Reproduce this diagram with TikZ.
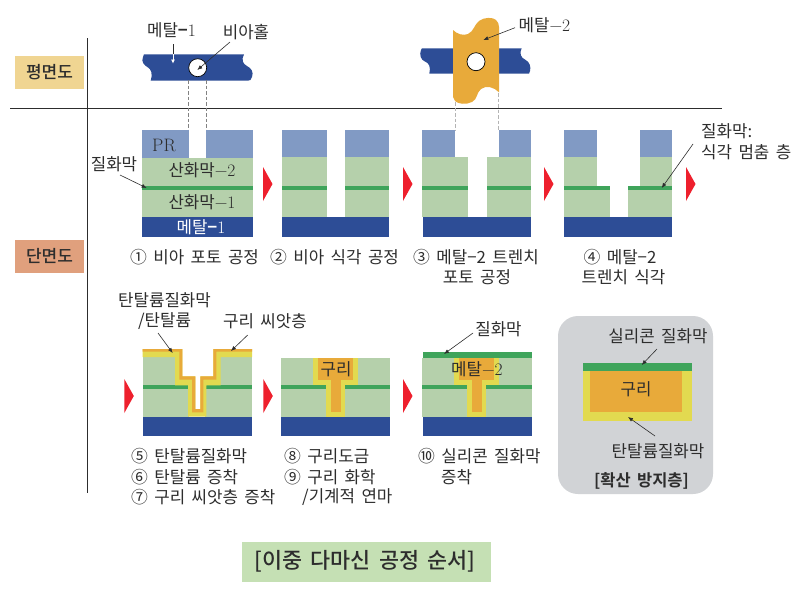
\documentclass[tikz,border=0pt]{standalone}
\usepackage{fontspec}
\usepackage{tikz}
\usetikzlibrary{arrows.meta}
\newfontfamily\krfont{Noto Sans CJK KR}[WordSpace=1.7,BoldFont={Noto Sans CJK KR Medium}]
\newfontfamily\krbold{Noto Sans CJK KR Bold}[WordSpace=1.7]
\definecolor{ink}{RGB}{45,45,45}
\definecolor{prblue}{RGB}{129,154,196}
\definecolor{oxide}{RGB}{181,208,171}
\definecolor{nitride}{RGB}{63,164,91}
\definecolor{metalone}{RGB}{45,77,150}
\definecolor{coppr}{RGB}{232,170,58}
\definecolor{tantal}{RGB}{226,218,80}
\definecolor{redtip}{RGB}{238,32,45}
\definecolor{planbox}{RGB}{240,213,146}
\definecolor{cutbox}{RGB}{224,160,125}
\definecolor{greybox}{RGB}{209,211,214}
\definecolor{titlebox}{RGB}{197,224,180}
\definecolor{guide}{RGB}{130,130,130}
\tikzset{
  lbl/.style={text=ink, inner sep=0pt, font=\krfont\fontsize{16.8}{18}\selectfont},
  capt/.style={lbl, anchor=west},
  head/.style={lbl, font=\krfont\bfseries\fontsize{17}{18}\selectfont},
  leader/.style={draw=ink, line width=0.6pt, -{Latex[length=5pt,width=4pt]}},
  guideline/.style={draw=guide, line width=0.6pt, dashed, dash pattern=on 3.5pt off 2pt},
  hole/.style={draw=black, line width=0.7pt, fill=white},
}
\newcommand{\ser}[1]{{\rmfamily\fontsize{17.5}{18}\selectfont #1}}
\begin{document}
\begin{tikzpicture}[x=1pt,y=-1pt]
  \useasboundingbox[fill=white] (0,0) rectangle (803,598);

  \fill[planbox] (15,56) rectangle (84,89);
  \fill[cutbox] (15,240) rectangle (84,273);
  \node[head] (plan) at (49.5,72) {평면도};
  \node[head] (cut) at (49.5,256) {단면도};
  \draw[ink, line width=0.8pt] (87.5,38) -- (87.5,493);
  \draw[ink, line width=0.8pt] (10,108.5) -- (722,108.5);

  \fill[metalone] (144,54.3) -- (244,54.3) .. controls (241,60) and (243,64) .. (247,66)
    .. controls (251,68) and (254,72) .. (252,77) .. controls (251,80) and (250,80.7) .. (248,80.7)
    -- (150.7,80.7) .. controls (153,74) and (151,69) .. (148,67.5)
    .. controls (144,65) and (141,62) .. (143,57) -- cycle;
  \draw[hole] (197.7,67.7) circle (9);

  \fill[metalone] (422,48.3) -- (521.7,48.3) .. controls (519,53) and (521,58) .. (525,59.5)
    .. controls (530,62) and (531,67) .. (530,71) -- (529,73.7) -- (429.3,73.7)
    .. controls (431,67) and (429,63) .. (425,61.5) .. controls (421,60) and (419,55) .. (421,50) -- cycle;
  \fill[coppr] (453,30) .. controls (457,34) and (463,36) .. (468,34)
    .. controls (474,31) and (474,25) .. (479,21) .. controls (484,17) and (493,17) .. (496,20)
    .. controls (498,22) and (499,24) .. (499,27) -- (499,92.3)
    .. controls (494,87) and (486,85) .. (481,89) .. controls (476,93) and (478,99) .. (472,102)
    .. controls (466,105) and (458,104) .. (455,101) -- (453,97) -- cycle;
  \draw[hole] (476,61.7) circle (9);

  \coordinate (holeL) at (188.7,80);
  \coordinate (holeR) at (206.3,80);
  \coordinate (prL) at (188.7,130);
  \coordinate (prR) at (206.3,130);
  \draw[guideline] (holeL) -- (prL);
  \draw[guideline] (holeR) -- (prR);
  \coordinate (lineL) at (455,102);
  \coordinate (lineR) at (498.7,93);
  \coordinate (trL) at (455,130);
  \coordinate (trR) at (498.7,130);
  \draw[guideline, guide!60] (lineL) -- (trL);
  \draw[guideline, guide!60] (lineR) -- (trR);

  \fill[prblue] (142,130) rectangle (189,158);
  \fill[prblue] (206,130) rectangle (253,158);
  \fill[oxide] (142,158) rectangle (253,217);
  \fill[nitride] (142,186) rectangle (253,189.5);

  \foreach \xa/\xb/\xc/\xd in {281.5/327/345/389,422/468/486.5/530.7} {
    \fill[oxide] (\xa,157) rectangle (\xb,217);
    \fill[oxide] (\xc,157) rectangle (\xd,217);
    \fill[nitride] (\xa,186) rectangle (\xb,189.5);
    \fill[nitride] (\xc,186) rectangle (\xd,189.5);
  }
  \foreach \xa/\xb in {281.5/327,345/389,422/455,499/530.7,564/597,640/672}
    \fill[prblue] (\xa,130) rectangle (\xb,157);
  \fill[oxide] (564,157) rectangle (597,186);
  \fill[oxide] (640,157) rectangle (672,186);
  \fill[oxide] (564,189) rectangle (610,217);
  \fill[oxide] (628,189) rectangle (672,217);
  \fill[nitride] (564,186) rectangle (610,189.5);
  \fill[nitride] (628,186) rectangle (672,189.5);
  \foreach \xa/\xb in {142/253,281.5/389,423/530.7,564/672}
    \fill[metalone] (\xa,217) rectangle (\xb,237);

  \foreach \xa/\ya in {263/167,403/167,544/167,686/167,124.3/379,263.3/379,403/379}
    \fill[redtip] (\xa,\ya) -- (\xa+9.5,\ya+17) -- (\xa,\ya+34) -- cycle;

  \fill[oxide] (142.5,357) rectangle (176,386);
  \fill[oxide] (219.6,357) rectangle (252,386);
  \fill[oxide] (142.5,386) rectangle (189,416.7);
  \fill[oxide] (205.3,386) rectangle (252,416.7);
  \fill[nitride] (142.5,385.3) rectangle (188,388.8);
  \fill[nitride] (206.3,385.3) rectangle (252,388.8);
  \fill[tantal] (142.5,349) -- (182.3,349) -- (182.3,376.3) -- (195.3,376.3) -- (195.3,409) -- (200.3,409)
    -- (200.3,376.3) -- (213.3,376.3) -- (213.3,349) -- (252,349) -- (252,357) -- (220.6,357)
    -- (220.6,385.3) -- (206.3,385.3) -- (206.3,416.7) -- (188,416.7) -- (188,385.3) -- (175,385.3)
    -- (175,357) -- (142.5,357) -- cycle;
  \fill[coppr] (142.5,349) -- (182.3,349) -- (182.3,376.3) -- (195.3,376.3) -- (195.3,409) -- (200.3,409)
    -- (200.3,376.3) -- (213.3,376.3) -- (213.3,349) -- (252,349) -- (252,351.5) -- (216.3,351.5)
    -- (216.3,379.6) -- (203.3,379.6) -- (203.3,412.3) -- (192,412.3) -- (192,379.6) -- (179.3,379.6)
    -- (179.3,351.5) -- (142.5,351.5) -- cycle;

  \foreach \xa/\xb/\xs in {281/390/0,422/532/141} {
    \fill[oxide] (\xa,357.5) rectangle (\xb,416.7);
    \fill[nitride] (\xa,385) rectangle (\xb,389);
    \fill[tantal] (313+\xs,357.5) rectangle (357.5+\xs,385);
    \fill[tantal] (326+\xs,385) rectangle (344.7+\xs,416.5);
    \fill[coppr] (318+\xs,357.5) rectangle (352.5+\xs,379.7);
    \fill[coppr] (331+\xs,379.7) rectangle (340.5+\xs,412);
  }
  \fill[nitride] (423,352) rectangle (532,358);
  \foreach \xa/\xb in {142.5/252,281/390,423/532}
    \fill[metalone] (\xa,416.7) rectangle (\xb,436);

  \fill[greybox, rounded corners=20pt] (558,316) rectangle (713,494);
  \fill[tantal] (583,371) rectangle (691.7,421);
  \fill[coppr] (590,371) rectangle (682,412.3);
  \fill[nitride] (583,363) rectangle (691.7,371);

  \fill[titlebox] (242,542) rectangle (491,582);

  \node[lbl] (metalTop) at (171.5,30) {메탈{\krbold−}\ser{1}};
  \node[lbl] (viaTop) at (246,32) {비아홀};
  \node[lbl] (metalTwo) at (544.5,25) {메탈\ser{−2}};
  \node[lbl] (prtxt) at (164,145) {\rmfamily\fontsize{18}{18}\selectfont PR};
  \node[lbl] (oxTwo) at (202,170) {산화막\ser{−2}};
  \node[lbl] (oxOne) at (202,202) {산화막\ser{−1}};
  \node[lbl, text=white] (metalOne) at (201,227) {메탈{\krbold−}\ser{1}};
  \node[lbl] (nitL) at (114,164) {질화막};
  \node[capt] (nitR) at (701,131.5) {질화막:};
  \node[capt] (stopR) at (701,152) {식각 멈춤 층};

  \node[capt] (capA) at (130,256.7) {① 비아 포토 공정};
  \node[capt] (capB) at (270,256.7) {② 비아 식각 공정};
  \node[capt] (capC) at (413,256.7) {③ 메탈−2 트렌치};
  \node[lbl] (capCb) at (477,277) {포토 공정};
  \node[lbl] (capD) at (620,256.7) {④ 메탈−2};
  \node[lbl] (capDb) at (623.5,277) {트렌치 식각};

  \node[lbl] (taNa) at (164.5,300) {탄탈륨질화막};
  \node[lbl] (taNb) at (164.5,321) {/탄탈륨};
  \node[lbl] (seed) at (265,321) {구리 씨앗층};
  \node[lbl] (cuMid) at (336,369) {구리};
  \node[lbl] (metalCut) at (477,369) {메탈\ser{−2}};
  \node[lbl] (nitTop) at (498.5,329) {질화막};
  \node[lbl] (siN) at (658,336) {실리콘 질화막};
  \node[lbl] (cuBox) at (636,389) {구리};
  \node[lbl] (taBox) at (658,451.7) {탄탈륨질화막};
  \node[head, font=\krbold\fontsize{16.5}{18}\selectfont] (barrier) at (641.5,481) {[확산 방지층]};

  \node[capt] (capE) at (131,456) {⑤ 탄탈륨질화막};
  \node[capt] (capF) at (131,476.7) {⑥ 탄탈륨 증착};
  \node[capt] (capG) at (131,496.7) {⑦ 구리 씨앗층 증착};
  \node[capt] (capH) at (284,456) {⑧ 구리도금};
  \node[capt] (capI) at (284,476.7) {⑨ 구리 화학};
  \node[capt] (capJ) at (302,496.7) {/기계적 연마};
  \node[capt] (capK) at (418,456) {⑩ 실리콘 질화막};
  \node[capt] (capL) at (441,477) {증착};
  \node[lbl, font=\krfont\bfseries\fontsize{21.8}{24}\selectfont] (title) at (365,561) {[이중 다마신 공정 순서]};

  \coordinate (aS) at (173,44);
  \coordinate (aM) at (173,54.3);
  \coordinate (aE) at (173,63.5);
  \draw[ink, line width=0.6pt] (aS) -- (aM);
  \draw[white, line width=0.6pt, -{Latex[length=4pt,width=4pt]}] (aM) -- (aE);
  \coordinate (bS) at (230,42);
  \coordinate (bE) at (197.3,70);
  \draw[leader] (bS) -- (bE);
  \coordinate (cS) at (515,27.7);
  \coordinate (cE) at (483.3,40);
  \draw[leader] (cS) -- (cE);
  \coordinate (dS) at (120,175);
  \coordinate (dE) at (146.7,188);
  \draw[leader] (dS) -- (dE);
  \coordinate (eS) at (693,144);
  \coordinate (eE) at (661.7,188);
  \draw[leader] (eS) -- (eE);
  \coordinate (fS) at (158,333);
  \coordinate (fE) at (172.7,353);
  \draw[leader] (fS) -- (fE);
  \coordinate (gS) at (247.7,335);
  \coordinate (gE) at (231,351);
  \draw[leader] (gS) -- (gE);
  \coordinate (hS) at (473,333);
  \coordinate (hE) at (444,354);
  \draw[leader] (hS) -- (hE);
  \coordinate (iS) at (657,349);
  \coordinate (iE) at (641.7,365);
  \draw[leader] (iS) -- (iE);
  \coordinate (jS) at (655,436);
  \coordinate (jE) at (628,417);
  \draw[leader] (jS) -- (jE);
\end{tikzpicture}
\end{document}
